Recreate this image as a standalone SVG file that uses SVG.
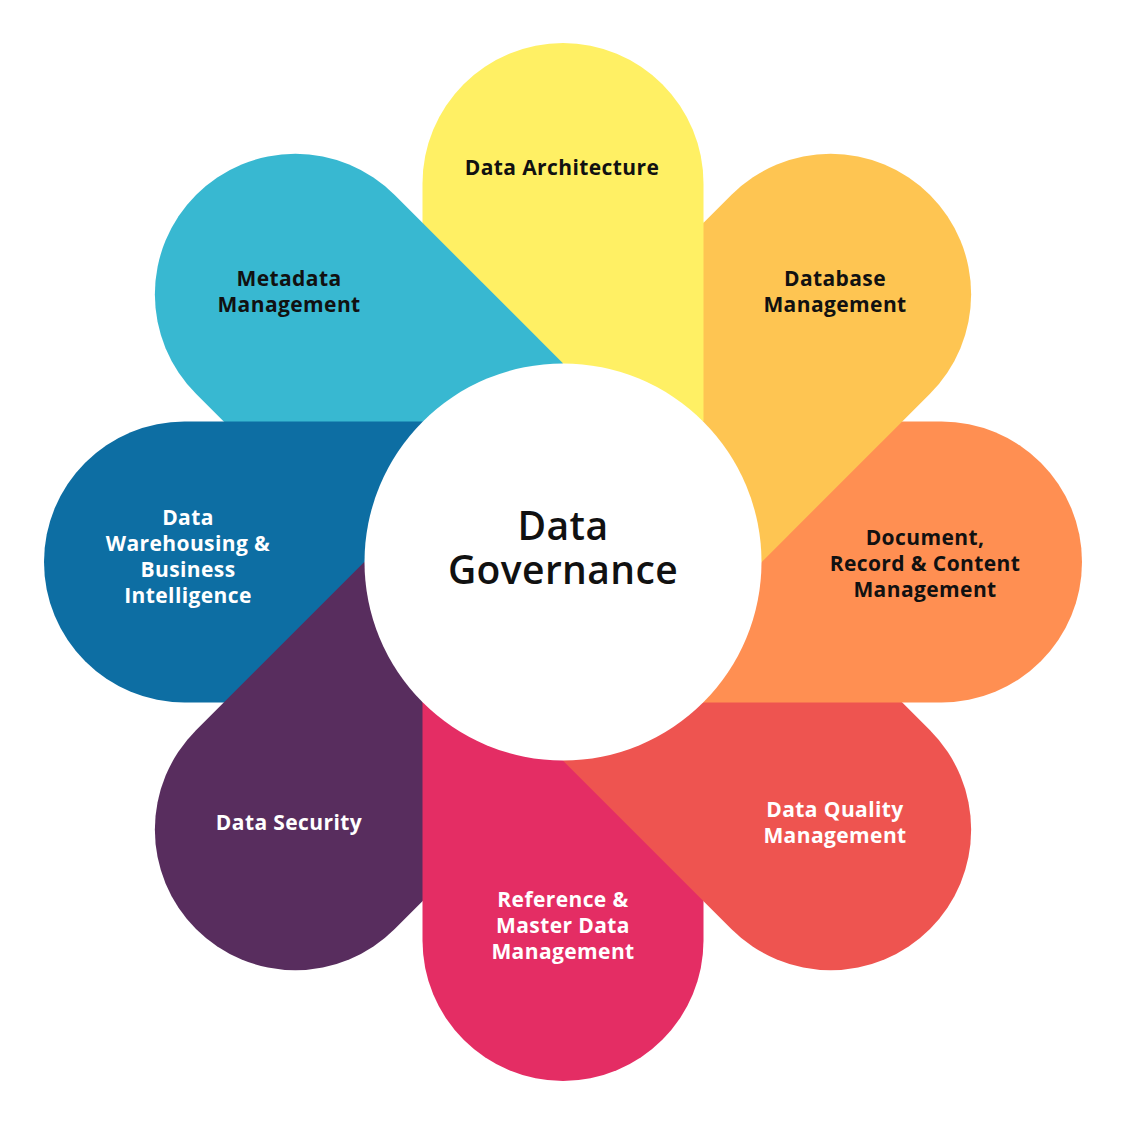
<svg xmlns="http://www.w3.org/2000/svg" width="1125" height="1125" viewBox="0 0 1125 1125">
<style>
.lbl{font-family:"Open Sans","Liberation Sans",sans-serif;font-weight:700;font-size:21px;letter-spacing:0.4px;text-anchor:middle}
.dk{fill:#111111}
.lt{fill:#ffffff}
.ctr{font-family:"Open Sans","Liberation Sans",sans-serif;font-weight:600;font-size:39px;letter-spacing:0.4px;text-anchor:middle;fill:#111111}
</style>
<defs>
<path id="petal" d="M-140.5,0 V-378.5 A140.5,140.5 0 0 1 140.5,-378.5 V0 Z"/>
</defs>
<rect width="1125" height="1125" fill="#ffffff"/>
<g id="petals">
<g id="p-architecture"><use href="#petal" fill="#FFF064" transform="translate(563,562) rotate(0)"/></g>
<g id="p-metadata"><use href="#petal" fill="#38B8D1" transform="translate(563,562) rotate(315)"/></g>
<g id="p-warehousing"><use href="#petal" fill="#0D6EA3" transform="translate(563,562) rotate(270)"/></g>
<g id="p-security"><use href="#petal" fill="#582D5E" transform="translate(563,562) rotate(225)"/></g>
<g id="p-reference"><use href="#petal" fill="#E42D64" transform="translate(563,562) rotate(180)"/></g>
<g id="p-quality"><use href="#petal" fill="#EE5450" transform="translate(563,562) rotate(135)"/></g>
<g id="p-document"><use href="#petal" fill="#FF8F52" transform="translate(563,562) rotate(90)"/></g>
<g id="p-database"><use href="#petal" fill="#FEC552" transform="translate(563,562) rotate(45)"/></g>
<polygon id="p-architecture-overlap" fill="#FFF064" transform="translate(563,562)" points="0,-200 140.5,-340.5 140.5,-141 0,-141"/>
</g>
<g id="center">
<circle cx="563" cy="562" r="198.5" fill="#ffffff"/>
<text class="ctr"><tspan x="563" y="540">Data</tspan><tspan x="563" y="584">Governance</tspan></text>
</g>
<g id="labels">
<text class="lbl dk" x="562" y="175">Data Architecture</text>
<text class="lbl dk" x="835" y="286">Database</text>
<text class="lbl dk" x="835" y="312">Management</text>
<text class="lbl dk" x="925" y="545">Document,</text>
<text class="lbl dk" x="925" y="571">Record &amp; Content</text>
<text class="lbl dk" x="925" y="597">Management</text>
<text class="lbl lt" x="835" y="817">Data Quality</text>
<text class="lbl lt" x="835" y="843">Management</text>
<text class="lbl lt" x="563" y="907">Reference &amp;</text>
<text class="lbl lt" x="563" y="933">Master Data</text>
<text class="lbl lt" x="563" y="959">Management</text>
<text class="lbl lt" x="289" y="830">Data Security</text>
<text class="lbl lt" x="188" y="525">Data</text>
<text class="lbl lt" x="188" y="551">Warehousing &amp;</text>
<text class="lbl lt" x="188" y="577">Business</text>
<text class="lbl lt" x="188" y="603">Intelligence</text>
<text class="lbl dk" x="289" y="286">Metadata</text>
<text class="lbl dk" x="289" y="312">Management</text>
</g>
</svg>
